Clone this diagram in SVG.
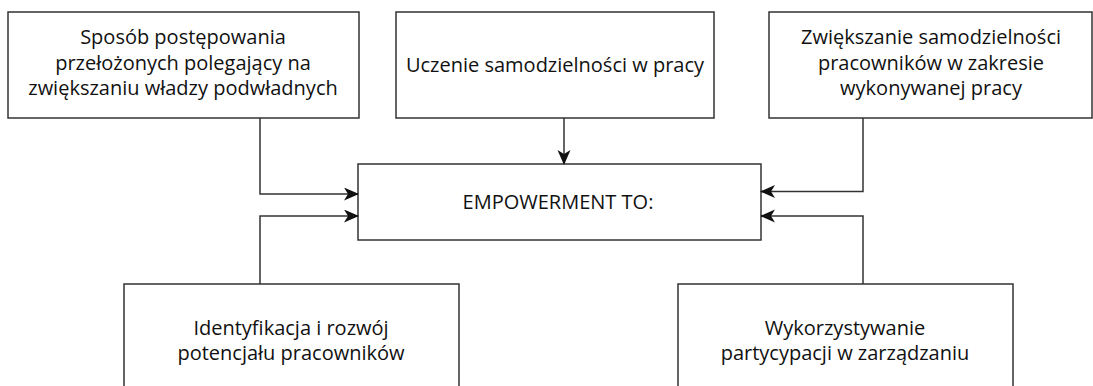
<svg xmlns="http://www.w3.org/2000/svg" width="1093" height="386" viewBox="0 0 1093 386">
<style>
.box{fill:#fff;stroke:#333;stroke-width:1.5}
.t{font-family:"Open Sans","Liberation Sans",sans-serif;font-size:20px;fill:#111;text-anchor:middle}
.c{fill:none;stroke:#333;stroke-width:1.5}
</style>
<defs>
<marker id="ah" markerUnits="userSpaceOnUse" markerWidth="16" markerHeight="14" refX="14" refY="6.5" orient="auto">
<path d="M0,0 L15,6.5 L0,13 L4,6.5 z" fill="#111"/>
</marker>
</defs>
<rect width="1093" height="386" fill="#fff"/>
<g id="n1">
<rect class="box" x="8" y="12" width="351" height="106"/>
<text class="t" x="183" y="44">Sposób postępowania</text>
<text class="t" x="183" y="70">przełożonych polegający na</text>
<text class="t" x="183" y="95">zwiększaniu władzy podwładnych</text>
</g>
<g id="n2">
<rect class="box" x="396" y="12" width="318" height="106"/>
<text class="t" x="555" y="72">Uczenie samodzielności w pracy</text>
</g>
<g id="n3">
<rect class="box" x="769" y="12" width="323" height="106"/>
<text class="t" x="931" y="44">Zwiększanie samodzielności</text>
<text class="t" x="931" y="70">pracowników w zakresie</text>
<text class="t" x="931" y="95">wykonywanej pracy</text>
</g>
<g id="center">
<rect class="box" x="358" y="164" width="403" height="76"/>
<text class="t" x="558" y="209">EMPOWERMENT TO:</text>
</g>
<g id="n4">
<rect class="box" x="124" y="284" width="335" height="120"/>
<text class="t" x="291" y="335">Identyfikacja i rozwój</text>
<text class="t" x="291" y="360">potencjału pracowników</text>
</g>
<g id="n5">
<rect class="box" x="678" y="284" width="335" height="120"/>
<text class="t" x="845" y="335">Wykorzystywanie</text>
<text class="t" x="845" y="360">partycypacji w zarządzaniu</text>
</g>
<g id="connectors">
<path class="c" d="M260,118 V194 H358" marker-end="url(#ah)"/>
<path class="c" d="M564,118 V164" marker-end="url(#ah)"/>
<path class="c" d="M863,118 V191.5 H761" marker-end="url(#ah)"/>
<path class="c" d="M260,284 V216 H358" marker-end="url(#ah)"/>
<path class="c" d="M863,284 V216 H761" marker-end="url(#ah)"/>
</g>
</svg>
